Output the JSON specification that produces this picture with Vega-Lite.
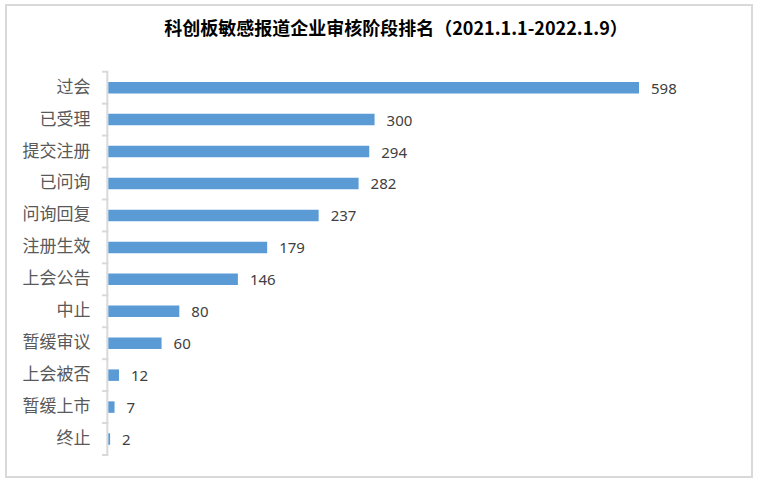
{
  "$schema": "https://vega.github.io/schema/vega-lite/v6.json",
  "width": 746,
  "height": 472,
  "autosize": {"type": "none"},
  "padding": {"left": 6, "top": 5, "right": 6, "bottom": 12},
  "background": "white",
  "config": {"view": {"stroke": "#d9d9d9", "strokeWidth": 2}},
  "title": {
    "text": "科创板敏感报道企业审核阶段排名（2021.1.1-2022.1.9）",
    "font": "Noto Sans CJK SC",
    "fontSize": 18,
    "fontWeight": "bold",
    "color": "#000000",
    "anchor": "middle",
    "frame": "group",
    "orient": "top",
    "baseline": "top",
    "offset": -34,
    "dx": 17
  },
  "data": {
    "values": [
      {"stage": "过会", "value": 598},
      {"stage": "已受理", "value": 300},
      {"stage": "提交注册", "value": 294},
      {"stage": "已问询", "value": 282},
      {"stage": "问询回复", "value": 237},
      {"stage": "注册生效", "value": 179},
      {"stage": "上会公告", "value": 146},
      {"stage": "中止", "value": 80},
      {"stage": "暂缓审议", "value": 60},
      {"stage": "上会被否", "value": 12},
      {"stage": "暂缓上市", "value": 7},
      {"stage": "终止", "value": 2}
    ]
  },
  "encoding": {
    "y": {
      "field": "stage",
      "type": "nominal",
      "sort": null,
      "scale": {"paddingInner": 0, "paddingOuter": 0, "range": [66.7, 450]},
      "axis": {
        "title": null,
        "domain": false,
        "ticks": false,
        "grid": false,
        "offset": -102,
        "labelPadding": 18,
        "labelFont": "Noto Sans CJK SC",
        "labelFontSize": 17,
        "labelColor": "#595959"
      }
    }
  },
  "layer": [
    {
      "mark": {"type": "bar", "color": "#d9d9d9", "height": {"band": 1.03}},
      "encoding": {
        "x": {"datum": -2.25, "type": "quantitative", "scale": {"domain": [-115.3, 725.3], "nice": false, "zero": false}, "axis": null},
        "x2": {"datum": 0}
      }
    },
    {
      "mark": {"type": "rule", "color": "#d9d9d9", "strokeWidth": 2},
      "encoding": {
        "x": {"datum": -7.1, "type": "quantitative"},
        "x2": {"datum": 0},
        "y": {"field": "stage", "type": "nominal", "sort": null, "bandPosition": 0}
      }
    },
    {
      "transform": [{"filter": "datum.stage === '终止'"}],
      "mark": {"type": "rule", "color": "#d9d9d9", "strokeWidth": 2},
      "encoding": {
        "x": {"datum": -7.1, "type": "quantitative"},
        "x2": {"datum": 0},
        "y": {"field": "stage", "type": "nominal", "sort": null, "bandPosition": 1}
      }
    },
    {
      "mark": {"type": "bar", "color": "#5B9BD5", "height": {"band": 0.36}},
      "encoding": {
        "x": {"field": "value", "type": "quantitative"},
        "x2": {"datum": 0}
      }
    },
    {
      "mark": {"type": "text", "align": "left", "baseline": "middle", "dx": 12, "dy": 1, "font": "Noto Sans", "fontSize": 15, "color": "#404040"},
      "encoding": {
        "x": {"field": "value", "type": "quantitative"},
        "text": {"field": "value", "type": "quantitative"}
      }
    }
  ]
}
